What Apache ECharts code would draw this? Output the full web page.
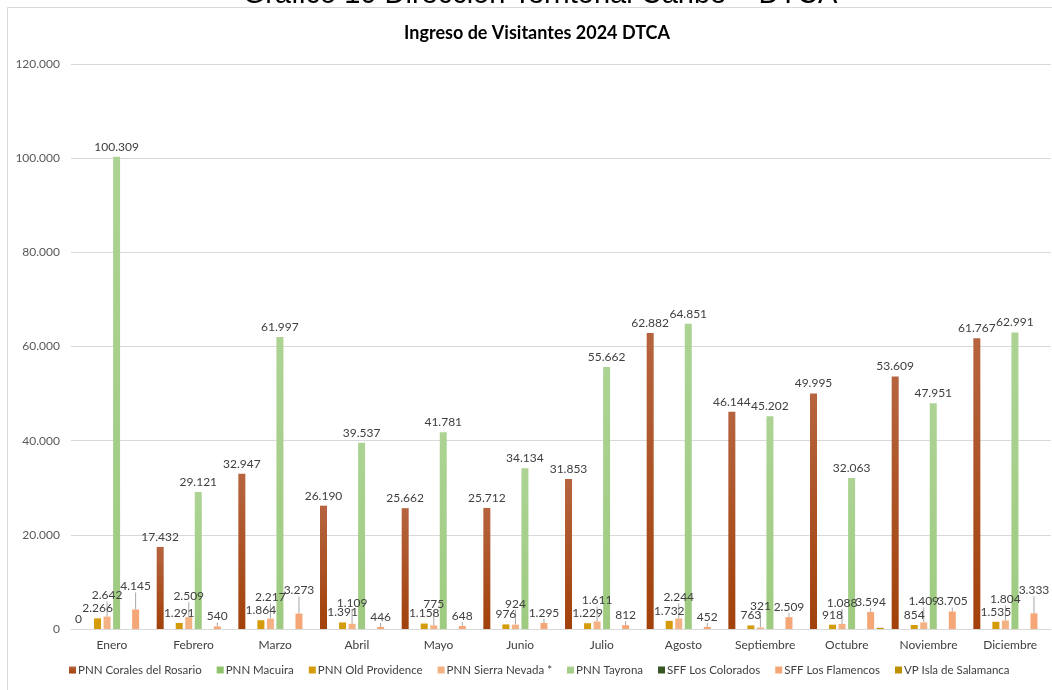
<!DOCTYPE html>
<html>
<head>
<meta charset="utf-8">
<script src="https://cdn.jsdelivr.net/npm/echarts@6/dist/echarts.min.js"></script>
<style>html,body{margin:0;padding:0;background:#fff;}#c{width:1052px;height:690px;}</style>
</head>
<body>
<div id="c"></div>
<script>
const months = ['Enero','Febrero','Marzo','Abril','Mayo','Junio','Julio','Agosto','Septiembre','Octubre','Noviembre','Diciembre'];
const yTicks = [0, 20000, 40000, 60000, 80000, 100000, 120000];
const corales   = [0, 17432, 32947, 26190, 25662, 25712, 31853, 62882, 46144, 49995, 53609, 61767];
const macuira   = [null, null, null, null, null, null, null, null, null, null, null, null];
const oldProv   = [2266, 1291, 1864, 1391, 1158, 976, 1229, 1732, 763, 918, 854, 1535];
const sierra    = [2642, 2509, 2217, 1109, 775, 924, 1611, 2244, 321, 1088, 1409, 1804];
const tayrona   = [100309, 29121, 61997, 39537, 41781, 34134, 55662, 64851, 45202, 32063, 47951, 62991];
const colorados = [null, null, null, null, null, null, null, null, null, null, null, null];
const flamencos = [4145, 540, 3273, 446, 648, 1295, 812, 452, 2509, 3594, 3705, 3333];
const salamanca = [null, null, null, null, null, null, null, null, null, 250, null, null];

const fmt = v => (v == null ? '' : String(Math.round(v)).replace(/\B(?=(\d{3})+(?!\d))/g, '.'));
const FONT = 'Lato';
const grad = (a, b) => new echarts.graphic.LinearGradient(0, 0, 0, 1, [{offset: 0, color: a}, {offset: 1, color: b}]);
const lbl = {show: true, position: 'top', distance: 4, color: '#404040', fontFamily: FONT, fontSize: 12,
  formatter: p => fmt(p.value)};

function bar(name, data, color, extra) {
  return Object.assign({
    name: name, type: 'bar', data: data, barWidth: 7, barGap: '36%',
    itemStyle: {color: color}, label: lbl
  }, extra || {});
}

const chart = echarts.init(document.getElementById('c'));
chart.setOption({
  backgroundColor: '#fff',
  animation: false,
  graphic: [
    {type: 'rect', shape: {x: 7.5, y: 7.5, width: 1060, height: 700}, style: {fill: 'none', stroke: '#d9d9d9', lineWidth: 1}, silent: true, z: -1},
    {type: 'text', x: 540, y: 9, style: {text: 'Gráfico 10 Dirección Territorial Caribe – DTCA', fontFamily: 'Liberation Sans', fontSize: 29,
      fill: '#000', textAlign: 'center', textVerticalAlign: 'bottom'}, silent: true},
    {type: 'text', x: 537, y: 33, style: {text: 'Ingreso de Visitantes 2024 DTCA', fontFamily: FONT, fontSize: 18, fontWeight: 'bold',
      fill: '#000', textAlign: 'center', textVerticalAlign: 'middle'}, silent: true}
  ],
  legend: {
    bottom: 9, left: 64, itemWidth: 7, itemHeight: 7, itemGap: 15,
    icon: 'rect',
    textStyle: {fontFamily: FONT, fontSize: 11.5, color: '#404040', padding: [0, 0, 0, -3]},
    data: ['PNN Corales del Rosario','PNN Macuira','PNN Old Providence','PNN Sierra Nevada *','PNN Tayrona','SFF Los Colorados','SFF Los Flamencos','VP Isla de Salamanca']
  },
  grid: {left: 71, right: 1, top: 64, bottom: 61, containLabel: false},
  xAxis: {
    type: 'category', data: months,
    axisLine: {lineStyle: {color: '#d9d9d9'}}, axisTick: {show: false},
    axisLabel: {fontFamily: FONT, fontSize: 12, color: '#404040', margin: 10}
  },
  yAxis: {
    type: 'value', min: yTicks[0], max: yTicks[yTicks.length - 1], interval: yTicks[1] - yTicks[0],
    axisLine: {show: false}, axisTick: {show: false},
    splitLine: {lineStyle: {color: '#d9d9d9'}},
    axisLabel: {fontFamily: FONT, fontSize: 12, color: '#595959', margin: 11, formatter: v => fmt(v)}
  },
  series: [
    bar('PNN Corales del Rosario', corales, grad('#b6643f', '#a2410a')),
    bar('PNN Macuira', macuira, '#8fc46a'),
    bar('PNN Old Providence', oldProv, '#d49b0b'),
    bar('PNN Sierra Nevada *', sierra, '#f4b183', {
      labelLayout: {dy: -11},
      labelLine: {show: true, lineStyle: {color: '#a6a6a6', width: 1}}
    }),
    bar('PNN Tayrona', tayrona, grad('#acd393', '#9ecb80')),
    bar('SFF Los Colorados', colorados, '#375623'),
    bar('SFF Los Flamencos', flamencos, '#f5a676', {
      labelLayout: p => ({dy: [0, 2, 11].indexOf(p.dataIndex) >= 0 ? -13 : 0}),
      labelLine: {show: true, lineStyle: {color: '#a6a6a6', width: 1}}
    }),
    bar('VP Isla de Salamanca', salamanca, '#bf9000', {label: {show: false}})
  ]
});
</script>
</body>
</html>
